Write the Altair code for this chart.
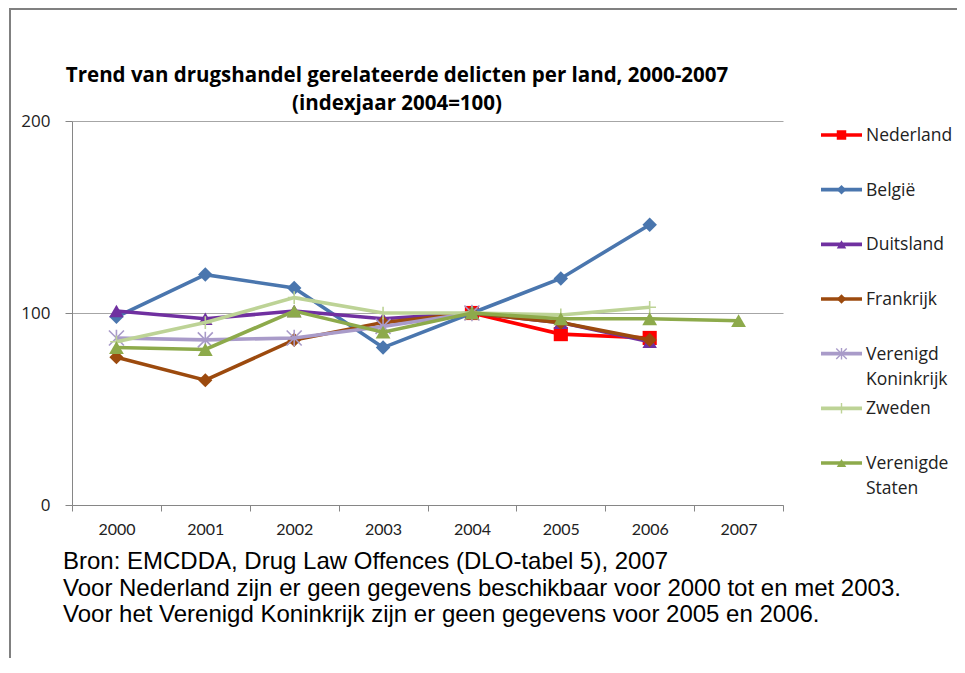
import altair as alt
import pandas as pd

years = ["2000", "2001", "2002", "2003", "2004", "2005", "2006", "2007"]
series_names = ["Nederland", "België", "Duitsland", "Frankrijk",
                "Verenigd Koninkrijk", "Zweden", "Verenigde Staten"]
legend_labels = ["Nederland", "België", "Duitsland", "Frankrijk",
                 "Verenigd\nKoninkrijk", "Zweden", "Verenigde\nStaten"]

nederland = [None, None, None, None, 100, 89, 87, None]
belgie = [98, 120, 113, 82, 100, 118, 146, None]
duitsland = [101, 97, 101, 97, 100, 95, 85, None]
frankrijk = [77, 65, 86, 95, 100, 95, 86, None]
verenigd_koninkrijk = [87, 86, 87, 93, 100, None, None, None]
zweden = [85, 95, 108, 100, 100, 99, 103, None]
verenigde_staten = [82, 81, 101, 90, 100, 97, 97, 96]

values = [nederland, belgie, duitsland, frankrijk, verenigd_koninkrijk, zweden, verenigde_staten]

colors = ["#FF0000", "#4A76AE", "#7030A0", "#9C4A0E", "#A99BC9", "#BDD396", "#8DAA4B"]
ASTER = "M-1,-1L1,1M-1,1L1,-1M0,-1.1L0,1.1"
PLUS = "M-1,0L1,0M0,-1L0,1"
shapes = ["square", "diamond", "triangle-up", "diamond", ASTER, PLUS, "triangle-up"]
filled = [True, True, True, True, False, False, True]
sizes = [200, 210, 210, 200, 225, 160, 220]

title_lines = ["Trend van drugshandel gerelateerde delicten per land, 2000-2007",
               "(indexjaar 2004=100)"]
foot_lines = ["Bron: EMCDDA, Drug Law Offences (DLO-tabel 5), 2007",
              "Voor Nederland zijn er geen gegevens beschikbaar voor 2000 tot en met 2003.",
              "Voor het Verenigd Koninkrijk zijn er geen gegevens voor 2005 en 2006."]

FONT = "Lato"
FONT2 = "Open Sans"

x_axis = alt.Axis(title=None, labelAngle=0, tickBand="extent", domainColor="#868686",
                  tickColor="#868686", tickSize=6, labelPadding=10, labelFont=FONT,
                  labelFontSize=16, labelColor="#222222", grid=False, labelBaseline="top")
y_axis = alt.Axis(title=None, values=[0, 100, 200], grid=True, gridColor="#A6A6A6",
                  domainColor="#868686", tickColor="#868686", tickSize=7, labelPadding=15,
                  labelFont=FONT2, labelFontSize=17, labelColor="#222222")

x_enc = alt.X("year:O", scale=alt.Scale(type="band", domain=years, paddingInner=0, paddingOuter=0),
              axis=x_axis)
y_enc = alt.Y("value:Q", scale=alt.Scale(domain=[0, 200]), axis=y_axis)

data_layers = []
legend_layers = []
for i, name in enumerate(series_names):
    df = pd.DataFrame({"year": years, "value": values[i]}).dropna()
    base = alt.Chart(df).encode(x=x_enc, y=y_enc)
    data_layers.append(base.mark_line(color=colors[i], strokeWidth=3.6))
    if filled[i]:
        pm = base.mark_point(shape=shapes[i], filled=True, color=colors[i], size=sizes[i], opacity=1)
    else:
        pm = base.mark_point(shape=shapes[i], filled=False, color=colors[i], size=sizes[i],
                             strokeWidth=1.6, opacity=1)
    data_layers.append(pm)

    ldf = pd.DataFrame({"idx": [i], "label": [legend_labels[i]]})
    ly = alt.Y("idx:Q", scale=alt.Scale(domain=[0, 6], range=[14, 342]), axis=None)
    lb = alt.Chart(ldf)
    legend_layers.append(lb.mark_rule(color=colors[i], strokeWidth=3.6).encode(
        x=alt.value(749), x2=alt.value(790), y=ly))
    if filled[i]:
        lp = lb.mark_point(shape=shapes[i], filled=True, color=colors[i], size=90, opacity=1)
    else:
        lp = lb.mark_point(shape=shapes[i], filled=False, color=colors[i], size=110,
                           strokeWidth=1.4, opacity=1)
    legend_layers.append(lp.encode(x=alt.value(769.5), y=ly))
    legend_layers.append(lb.mark_text(align="left", baseline="alphabetic", dy=6, lineBreak="\n",
                                      lineHeight=25, font=FONT2, fontSize=17.5, color="#222222").encode(
        x=alt.value(794), y=ly, text="label:N"))

data_layer = alt.layer(*data_layers)
legend_layer = alt.layer(*legend_layers)

frame = alt.Chart(pd.DataFrame({"k": [0]})).mark_rect(
    fill=None, stroke="#808080", strokeWidth=2).encode(
    x=alt.value(-62), x2=alt.value(920), y=alt.value(-112), y2=alt.value(580))

title_marks = []
for j, t in enumerate(title_lines):
    title_marks.append(alt.Chart(pd.DataFrame({"t": [t]})).mark_text(
        align="center", baseline="middle", font=FONT2, fontSize=20.5, fontWeight="bold",
        color="#000000").encode(x=alt.value(325), y=alt.value([-45, -17][j]), text="t:N"))

foot_marks = []
for j, t in enumerate(foot_lines):
    foot_marks.append(alt.Chart(pd.DataFrame({"t": [t]})).mark_text(
        align="left", baseline="alphabetic", font="Liberation Sans", fontSize=24,
        color="#000000").encode(x=alt.value(-9), y=alt.value([448, 474.5, 501][j]), text="t:N"))

chart = alt.layer(data_layer, legend_layer, frame, *title_marks, *foot_marks).resolve_scale(
    y="independent"
).properties(
    width=711, height=384,
    autosize=alt.AutoSizeParams(type="none"),
    padding={"left": 64, "top": 113, "right": 174, "bottom": 153},
).configure_view(stroke=None)

chart.save("out.html", embed_options={"renderer": "svg", "actions": False})
